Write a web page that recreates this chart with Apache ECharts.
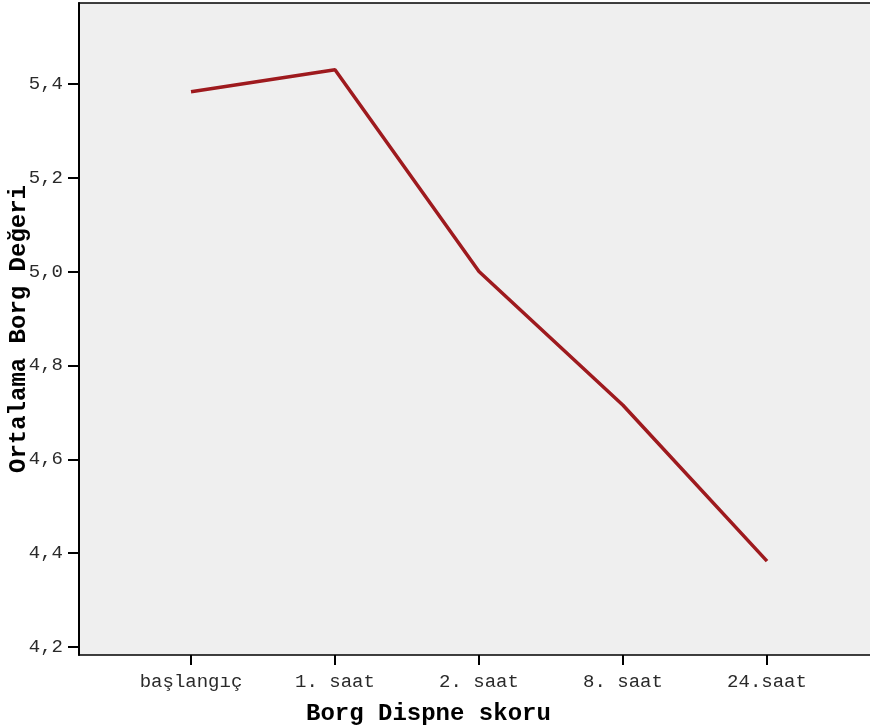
<!DOCTYPE html>
<html><head><meta charset="utf-8">
<script src="https://cdn.jsdelivr.net/npm/echarts@6/dist/echarts.min.js"></script>
<style>html,body{margin:0;padding:0;background:#fff}#c{width:870px;height:728px}</style>
</head><body><div id="c"></div>
<script>
const categories = ['başlangıç', '1. saat', '2. saat', '8. saat', '24.saat'];
const meanBorg = [5.383, 5.430, 5.000, 4.715, 4.383];
const yTicks = [4.2, 4.4, 4.6, 4.8, 5.0, 5.2, 5.4];
const xTitle = 'Borg Dispne skoru';
const yTitle = 'Ortalama Borg Değeri';

const FONT = '"Liberation Mono", "DejaVu Sans Mono", monospace';
const yMin = 4.183, yMax = 5.572;
const chart = echarts.init(document.getElementById('c'), null, {renderer: 'canvas'});
chart.setOption({
  animation: false,
  backgroundColor: '#ffffff',
  grid: [
    {left: 79, right: -10, top: 3, bottom: 73, show: true, backgroundColor: '#efefef', borderColor: '#000', borderWidth: 1.5,
     containLabel: false, outerBoundsMode: 'none'},
    {left: 119, width: 720, top: 3, bottom: 73, containLabel: false, outerBoundsMode: 'none'}
  ],
  xAxis: [
    {gridIndex: 0, type: 'value', min: 0, max: 1, show: false},
    {gridIndex: 1, type: 'category', data: categories, boundaryGap: true,
     axisLine: {show: false},
     axisTick: {show: true, alignWithLabel: true, length: 10, lineStyle: {color: '#000', width: 2}},
     axisLabel: {margin: 17, color: '#2a2a2a', fontFamily: FONT, fontSize: 19},
     splitLine: {show: false}}
  ],
  yAxis: [
    {gridIndex: 0, type: 'value', min: yMin, max: yMax,
     name: yTitle, nameLocation: 'middle', nameGap: 48, nameMoveOverlap: false,
     nameTextStyle: {fontFamily: FONT, fontSize: 24, fontWeight: 'bold', color: '#000'},
     axisLine: {show: true, lineStyle: {color: '#000', width: 2}},
     axisTick: {show: true, length: 11, customValues: yTicks, lineStyle: {color: '#000', width: 2}},
     axisLabel: {margin: 16, color: '#2a2a2a', fontFamily: FONT, fontSize: 19, customValues: yTicks,
       formatter: v => v.toFixed(1).replace('.', ',')},
     splitLine: {show: false}},
    {gridIndex: 1, type: 'value', min: yMin, max: yMax, show: false}
  ],
  graphic: [
    {type: 'text', left: 428 - 122, top: 702,
     style: {text: xTitle, font: 'bold 24px ' + FONT, fill: '#000'}}
  ],
  series: [
    {type: 'line', xAxisIndex: 1, yAxisIndex: 1, data: meanBorg, symbol: 'none',
     lineStyle: {color: '#9e1a1e', width: 3.5}}
  ]
});
</script></body></html>
